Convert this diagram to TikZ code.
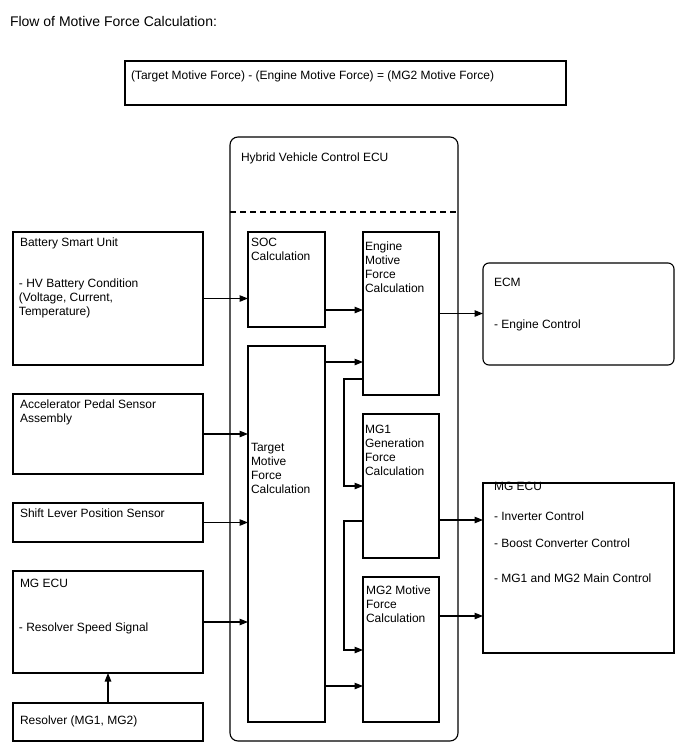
\documentclass[tikz,border=0pt]{standalone}
\usepackage{fontspec}
\setmainfont{Liberation Sans}
\usetikzlibrary{arrows.meta,calc}
\newcommand\mkbox[6][]{\node[box,#1,minimum width={(#4)-(#2)},minimum height={(#5)-(#3)}] (#6) at ({((#2)+(#4))/2},{((#3)+(#5))/2}) {};}
\begin{document}
\begin{tikzpicture}[x=1pt,y=-1pt,
  box/.style={draw=black,line width=1.1pt,rectangle,inner sep=0pt,outer sep=0pt},
  txt/.style={anchor=north west,inner sep=0pt,outer sep=0pt,align=left,font=\fontsize{12}{14}\selectfont},
  arr/.style={line width=1.1pt,-{Triangle[length=8.5pt,width=6.5pt]}},
  ln/.style={line width=1.1pt}]
\useasboundingbox[fill=white] (0,0) rectangle (688,755);

% boxes
\mkbox{125}{61}{566}{105}{fbox}
\mkbox[rounded corners=8pt]{230}{137}{458}{741}{hv}
\mkbox{13}{232}{203}{365}{bsu}
\mkbox{13}{394}{203}{474}{acc}
\mkbox{13}{503}{203}{542}{slp}
\mkbox{13}{571}{203}{673}{mgl}
\mkbox{13}{703}{203}{741}{res}
\mkbox{248}{232}{325}{327}{soc}
\mkbox{248}{346}{325}{722}{tmf}
\mkbox{363}{232}{439}{395}{emf}
\mkbox{363}{414}{439}{558}{mga}
\mkbox{363}{577}{439}{722}{mgb}
\mkbox[rounded corners=6pt]{483}{263}{674}{365}{ecm}
\mkbox{483}{483}{674}{653}{mgr}

\coordinate (d) at (0,212);
\draw[ln,dash pattern=on 6pt off 4pt] (hv.west |- d) -- (hv.east |- d);

% texts
\node[txt,font=\fontsize{14}{16}\selectfont] (t0) at (10,16.5) {Flow of Motive Force Calculation:};
\node[txt] (tf) at (131,71) {(Target Motive Force) - (Engine Motive Force) = (MG2 Motive Force)};
\node[txt] (thv) at (241,152.5) {Hybrid Vehicle Control ECU};
\node[txt] (tbsu) at (20,237.5) {Battery Smart Unit};
\node[txt] (tbsub) at (19,278.5) {- HV Battery Condition\\(Voltage, Current,\\Temperature)};
\node[txt] (tacc) at (20,399.5) {Accelerator Pedal Sensor\\Assembly};
\node[txt] (tslp) at (20,508.5) {Shift Lever Position Sensor};
\node[txt] (tmgl) at (20,579.5) {MG ECU};
\node[txt] (tmglb) at (19,622.5) {- Resolver Speed Signal};
\node[txt] (tres) at (20,715.5) {Resolver (MG1, MG2)};
\node[txt] (tsoc) at (251,238.5) {SOC\\Calculation};
\node[txt] (temf) at (365,241.5) {Engine\\Motive\\Force\\Calculation};
\node[txt] (tmga) at (365,425.5) {MG1\\Generation\\Force\\Calculation};
\node[txt] (tmgb) at (366,585.5) {MG2 Motive\\Force\\Calculation};
\node[txt] (ttmf) at (251,443.5) {Target\\Motive\\Force\\Calculation};
\node[txt] (tecm) at (494,278.5) {ECM};
\node[txt] (tecmb) at (494,319.5) {- Engine Control};
\node[txt] (tmgr) at (494,482.5) {MG ECU};
\node[txt] (tmgr1) at (494,511.5) {- Inverter Control};
\node[txt] (tmgr2) at (494,538.5) {- Boost Converter Control};
\node[txt] (tmgr3) at (494,573.5) {- MG1 and MG2 Main Control};

% connectors
\draw[arr] (bsu.east) -- (bsu.east -| soc.west);
\draw[arr] (acc.east) -- (acc.east -| tmf.west);
\draw[arr] (slp.east) -- (slp.east -| tmf.west);
\draw[arr] (mgl.east) -- (mgl.east -| tmf.west);
\draw[arr] (res.north) -- (mgl.south);
\coordinate (a1) at ($(soc.south east)+(0,-17)$);
\draw[arr] (a1) -- (a1 -| emf.west);
\coordinate (a2) at ($(tmf.north east)+(0,16)$);
\draw[arr] (a2) -- (a2 -| emf.west);
\coordinate (a3) at ($(emf.south west)+(0,-16)$);
\coordinate (a3b) at ($(mga.north west)+(0,72)$);
\draw[arr] (a3) -| ($(a3b)+(-19,0)$) -- (a3b);
\coordinate (a4) at ($(mga.south west)+(0,-37)$);
\coordinate (a4b) at ($(mgb.north west)+(0,73)$);
\draw[arr] (a4) -| ($(a4b)+(-19,0)$) -- (a4b);
\coordinate (a5) at ($(tmf.south east)+(0,-36)$);
\draw[arr] (a5) -- (a5 -| mgb.west);
\draw[arr] (emf.east) -- (emf.east -| ecm.west);
\coordinate (a6) at ($(mga.south east)+(0,-38)$);
\draw[arr] (a6) -- (a6 -| mgr.west);
\coordinate (a7) at ($(mgb.north east)+(0,39)$);
\draw[arr] (a7) -- (a7 -| mgr.west);
\end{tikzpicture}
\end{document}
